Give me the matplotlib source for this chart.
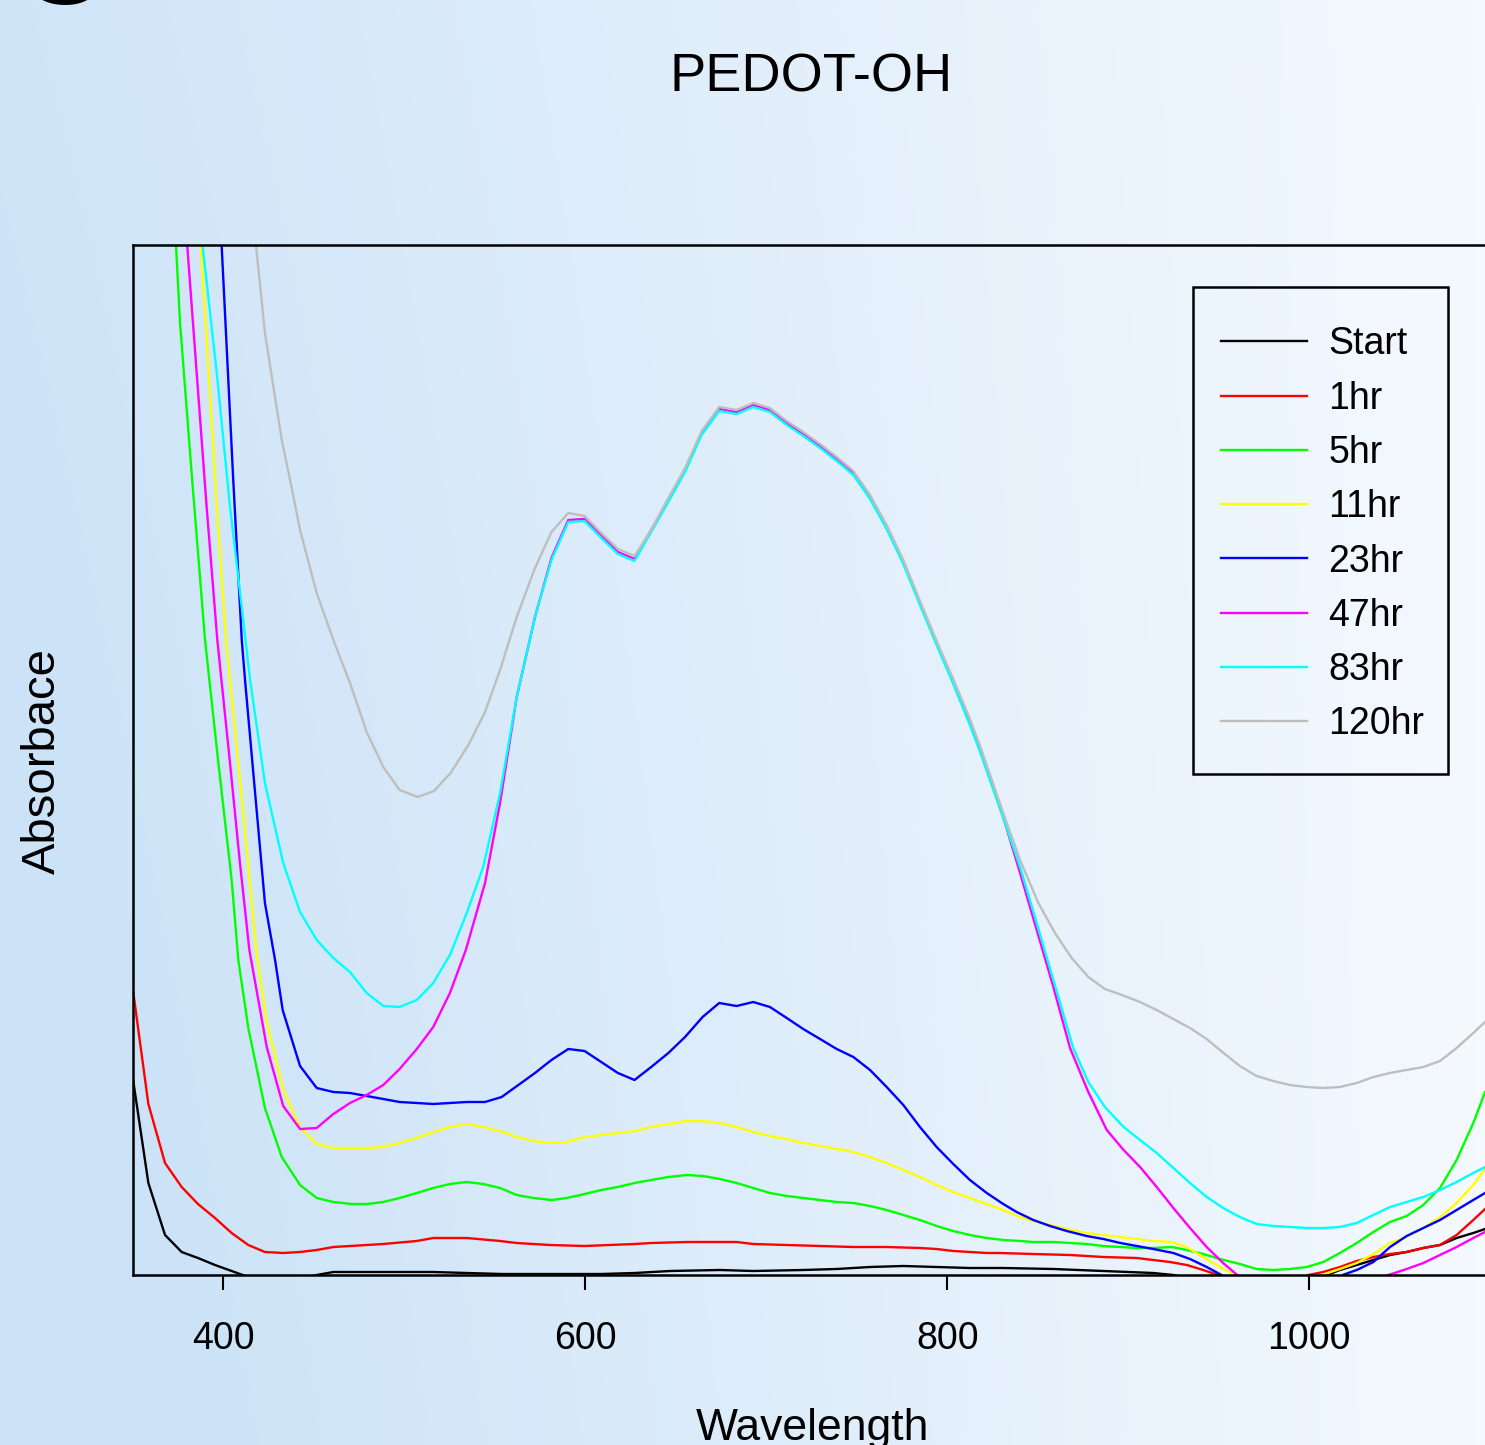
import numpy as np
import matplotlib
matplotlib.use("Agg")
import matplotlib.pyplot as plt
from matplotlib.patches import Rectangle

plt.rcParams['font.family'] = ['Liberation Sans', 'DejaVu Sans']

# ---------------- data (wavelength in nm, absorbance in arbitrary units) ----------------
labels = ["Start", "1hr", "5hr", "11hr", "23hr", "47hr", "83hr", "120hr"]
colors = ["#000000", "#ff0000", "#00ff00", "#ffff00", "#0000ff", "#ff00ff", "#00ffff", "#bebebe"]

black_wl = [350.0, 358.6, 367.8, 377.0, 386.0, 395.4, 404.6, 413.8, 423.0, 432.3, 442.4, 451.6, 460.8, 479.2,
            497.4, 516.0, 534.5, 553.8, 572.2, 590.6, 608.8, 627.2, 646.9, 674.4, 692.8, 720.4, 738.9, 757.3,
            775.7, 794.1, 812.5, 830.9, 858.6, 886.2, 913.8, 924.9, 943.3, 961.6, 980.1, 998.6, 1009.6, 1016.9,
            1026.2, 1035.4, 1044.6, 1053.8, 1063.0, 1072.2, 1081.4, 1090.6, 1097.1]
black_abs = [0.197, 0.092, 0.040, 0.023, 0.017, 0.010, 0.004, -0.002, -0.006, -0.006, -0.004, 0.000, 0.003, 0.003,
             0.003, 0.003, 0.002, 0.001, 0.001, 0.001, 0.001, 0.002, 0.004, 0.005, 0.004, 0.005, 0.006, 0.008,
             0.009, 0.008, 0.007, 0.007, 0.006, 0.004, 0.002, 0.000, -0.008, -0.015, -0.015, -0.008, 0.000, 0.005,
             0.010, 0.015, 0.020, 0.023, 0.027, 0.030, 0.037, 0.042, 0.046]

red_wl = [350.0, 358.6, 367.8, 377.0, 386.0, 395.4, 404.6, 413.8, 423.0, 433.1, 442.4, 451.6, 460.8, 470.0, 488.4,
          506.9, 516.0, 534.5, 552.9, 562.1, 580.4, 599.6, 627.2, 636.4, 656.0, 683.6, 692.8, 711.3, 729.7, 748.1,
          766.5, 784.9, 794.1, 803.3, 812.5, 821.8, 829.1, 847.5, 867.8, 886.2, 904.7, 923.0, 932.3, 941.4, 949.6,
          962.0, 978.0, 992.0, 999.4, 1007.7, 1016.9, 1026.2, 1035.4, 1044.6, 1053.8, 1063.0, 1072.2, 1081.4,
          1090.6, 1097.1]
red_abs = [0.286, 0.171, 0.112, 0.088, 0.071, 0.057, 0.042, 0.030, 0.023, 0.022, 0.023, 0.025, 0.028, 0.029, 0.031,
           0.034, 0.037, 0.037, 0.034, 0.032, 0.030, 0.029, 0.031, 0.032, 0.033, 0.033, 0.031, 0.030, 0.029, 0.028,
           0.028, 0.027, 0.026, 0.024, 0.023, 0.022, 0.022, 0.021, 0.020, 0.018, 0.017, 0.013, 0.010, 0.005, 0.000,
           -0.010, -0.015, -0.006, 0.000, 0.003, 0.008, 0.014, 0.018, 0.021, 0.023, 0.027, 0.030, 0.040,
           0.055, 0.066]

green_wl = [371.0, 373.9, 376.1, 382.5, 389.9, 397.1, 404.6, 408.3, 413.8, 423.0, 432.3, 442.4, 451.6, 460.8, 470.9,
            479.2, 488.4, 497.4, 506.9, 516.0, 525.2, 534.5, 543.6, 552.9, 562.1, 571.3, 581.3, 589.7, 599.6, 608.8,
            618.0, 627.2, 636.4, 645.9, 656.0, 665.1, 674.4, 683.6, 692.8, 702.0, 711.3, 720.4, 729.7, 738.9, 748.1,
            757.3, 766.5, 775.7, 784.9, 794.1, 803.3, 812.5, 821.8, 830.9, 840.2, 847.5, 858.6, 867.8, 877.0, 886.2,
            895.6, 904.7, 913.8, 924.0, 932.3, 941.4, 950.6, 961.6, 970.9, 980.1, 989.3, 998.6, 1007.7, 1016.9,
            1026.2, 1035.4, 1044.6, 1053.8, 1063.0, 1072.2, 1081.4, 1090.6, 1097.1]
green_abs = [1.100, 1.029, 0.952, 0.802, 0.635, 0.515, 0.395, 0.315, 0.247, 0.167, 0.118, 0.090, 0.077, 0.073, 0.071,
             0.071, 0.073, 0.077, 0.082, 0.087, 0.091, 0.093, 0.091, 0.087, 0.080, 0.077, 0.075, 0.077, 0.081, 0.085,
             0.088, 0.092, 0.095, 0.098, 0.100, 0.099, 0.096, 0.092, 0.087, 0.082, 0.079, 0.077, 0.075, 0.073, 0.072,
             0.069, 0.065, 0.060, 0.055, 0.049, 0.044, 0.040, 0.037, 0.035, 0.034, 0.033, 0.033, 0.032, 0.031, 0.029,
             0.028, 0.027, 0.027, 0.028, 0.025, 0.021, 0.016, 0.011, 0.006, 0.005, 0.006, 0.008, 0.013, 0.022,
             0.032, 0.043, 0.053, 0.059, 0.070, 0.087, 0.115, 0.152, 0.183]

yellow_wl = [385.0, 387.5, 390.8, 396.4, 401.5, 403.7, 411.0, 418.5, 424.0, 433.1, 442.4, 451.6, 460.8, 470.0, 479.2,
             488.4, 497.4, 506.9, 516.0, 525.2, 534.5, 543.6, 552.9, 562.1, 571.3, 581.3, 589.7, 599.6, 608.8, 618.0,
             627.2, 636.4, 645.9, 656.0, 665.1, 674.4, 683.6, 692.8, 702.0, 711.3, 720.4, 729.7, 738.9, 748.1, 757.3,
             766.5, 775.7, 784.9, 794.1, 803.3, 812.5, 821.8, 830.9, 838.3, 847.5, 856.8, 866.0, 877.0, 886.2, 895.6,
             904.7, 913.8, 924.0, 932.3, 941.4, 950.6, 958.9, 972.0, 986.0, 999.0, 1006.9, 1016.9, 1026.2, 1035.4,
             1044.6, 1053.8, 1063.0, 1072.2, 1081.4, 1090.6, 1097.1]
yellow_abs = [1.100, 1.029, 0.935, 0.768, 0.635, 0.595, 0.462, 0.320, 0.253, 0.185, 0.148, 0.131, 0.127, 0.127, 0.127,
              0.128, 0.132, 0.137, 0.143, 0.148, 0.151, 0.148, 0.144, 0.138, 0.134, 0.132, 0.133, 0.138, 0.140, 0.142,
              0.144, 0.148, 0.151, 0.154, 0.154, 0.152, 0.148, 0.143, 0.139, 0.136, 0.132, 0.129, 0.126, 0.123, 0.118,
              0.112, 0.105, 0.098, 0.090, 0.083, 0.077, 0.071, 0.065, 0.059, 0.054, 0.050, 0.046, 0.042, 0.040, 0.038,
              0.036, 0.034, 0.033, 0.028, 0.018, 0.008, 0.000, -0.012, -0.015, -0.006, 0.000, 0.006, 0.012, 0.021,
              0.032, 0.038, 0.047, 0.058, 0.072, 0.090, 0.106]

blue_wl = [397.2, 399.1, 405.5, 410.2, 412.0, 423.0, 428.6, 432.8, 442.4, 451.6, 460.8, 470.0, 479.2, 488.4, 497.4,
           506.9, 516.0, 525.2, 534.5, 544.6, 553.8, 563.0, 572.2, 581.3, 590.6, 599.6, 608.8, 618.0, 627.2, 636.4,
           645.9, 655.1, 664.8, 674.0, 683.6, 692.8, 702.0, 711.3, 720.4, 729.7, 738.9, 748.1, 757.3, 766.5, 775.7,
           784.9, 794.1, 803.3, 812.5, 821.8, 830.9, 838.3, 847.5, 856.8, 866.0, 877.0, 886.2, 895.6, 904.7, 913.8,
           924.9, 934.1, 943.3, 951.5, 968.0, 990.0, 1010.0, 1018.4, 1026.2, 1035.4, 1044.6, 1053.8, 1063.0, 1072.2,
           1081.4, 1090.6, 1097.1]
blue_abs = [1.100, 1.029, 0.795, 0.635, 0.595, 0.372, 0.315, 0.265, 0.209, 0.187, 0.183, 0.182, 0.179, 0.176, 0.173,
            0.172, 0.171, 0.172, 0.173, 0.173, 0.178, 0.190, 0.202, 0.215, 0.226, 0.224, 0.213, 0.202, 0.195, 0.208,
            0.222, 0.238, 0.258, 0.272, 0.269, 0.273, 0.268, 0.257, 0.246, 0.236, 0.226, 0.218, 0.205, 0.188, 0.170,
            0.148, 0.128, 0.111, 0.095, 0.082, 0.071, 0.063, 0.055, 0.049, 0.044, 0.039, 0.036, 0.032, 0.029, 0.026,
            0.022, 0.016, 0.008, 0.000, -0.020, -0.030, -0.012, 0.000, 0.005, 0.013, 0.028, 0.039, 0.047, 0.055,
            0.065, 0.075, 0.082]

magenta_wl = [378.0, 380.1, 385.3, 390.8, 396.7, 403.7, 409.2, 414.4, 424.0, 433.1, 442.4, 451.6, 460.8, 470.0, 479.2,
              488.4, 497.4, 506.9, 516.0, 525.2, 534.0, 544.6, 552.9, 562.1, 572.2, 581.3, 590.6, 599.6, 608.8, 618.0,
              627.2, 636.4, 645.9, 655.1, 664.3, 674.0, 683.6, 692.8, 702.0, 711.3, 720.4, 729.7, 738.9, 748.1, 757.3,
              766.5, 775.7, 784.9, 794.1, 803.3, 812.5, 818.1, 830.9, 840.2, 849.4, 858.6, 867.8, 877.9, 888.1, 897.4,
              906.5, 915.7, 924.9, 934.1, 943.3, 952.4, 960.2, 980.0, 1005.0, 1030.0, 1043.7, 1053.8, 1063.0, 1072.2,
              1081.4, 1090.6, 1097.1]
magenta_abs = [1.100, 1.029, 0.902, 0.768, 0.635, 0.512, 0.412, 0.325, 0.228, 0.169, 0.146, 0.147, 0.161, 0.172, 0.180,
               0.190, 0.206, 0.226, 0.248, 0.282, 0.325, 0.392, 0.472, 0.578, 0.658, 0.717, 0.755, 0.756, 0.740, 0.723,
               0.716, 0.745, 0.775, 0.805, 0.842, 0.866, 0.863, 0.870, 0.865, 0.852, 0.841, 0.829, 0.816, 0.802, 0.778,
               0.748, 0.713, 0.672, 0.632, 0.593, 0.552, 0.525, 0.458, 0.402, 0.345, 0.288, 0.227, 0.183, 0.145, 0.125,
               0.108, 0.088, 0.067, 0.047, 0.028, 0.012, 0.000, -0.030, -0.045, -0.020, 0.000, 0.006, 0.012, 0.020,
               0.028, 0.037, 0.043]

cyan_wl = [386.0, 388.6, 396.4, 403.7, 410.2, 414.8, 423.0, 433.1, 442.4, 451.6, 460.8, 470.0, 479.2, 488.4, 497.4,
           506.9, 516.0, 525.2, 534.5, 543.6, 552.9, 562.1, 572.2, 581.3, 590.6, 599.6, 608.8, 618.0, 627.2, 636.4,
           645.9, 655.1, 664.3, 674.0, 683.6, 692.8, 702.0, 711.3, 720.4, 729.7, 738.9, 748.1, 757.3, 766.5, 775.7,
           784.9, 794.1, 803.3, 812.5, 818.1, 830.9, 840.2, 849.4, 858.6, 869.6, 877.9, 887.1, 897.4, 906.5, 915.7,
           924.9, 934.1, 943.3, 952.4, 961.6, 970.9, 980.1, 989.3, 998.6, 1007.7, 1016.9, 1026.2, 1035.4, 1044.6,
           1053.8, 1063.0, 1072.2, 1081.4, 1090.6, 1097.1]
cyan_abs = [1.100, 1.029, 0.902, 0.768, 0.668, 0.595, 0.492, 0.412, 0.363, 0.335, 0.317, 0.303, 0.282, 0.269, 0.268,
            0.275, 0.292, 0.320, 0.362, 0.408, 0.482, 0.578, 0.658, 0.715, 0.753, 0.754, 0.737, 0.721, 0.714, 0.743,
            0.773, 0.803, 0.840, 0.864, 0.861, 0.868, 0.863, 0.850, 0.839, 0.827, 0.814, 0.800, 0.776, 0.746, 0.711,
            0.670, 0.630, 0.591, 0.550, 0.523, 0.457, 0.408, 0.352, 0.295, 0.227, 0.193, 0.168, 0.148, 0.135, 0.122,
            0.107, 0.092, 0.078, 0.067, 0.058, 0.051, 0.049, 0.048, 0.047, 0.047, 0.048, 0.052, 0.060, 0.068,
            0.073, 0.078, 0.085, 0.093, 0.102, 0.108]

gray_wl = [414.0, 418.1, 423.0, 432.3, 436.9, 442.4, 451.6, 460.8, 470.0, 479.2, 488.4, 497.4, 507.4, 516.4, 525.6,
           535.4, 544.6, 552.9, 562.1, 572.2, 581.3, 590.6, 599.6, 608.8, 618.0, 627.2, 636.4, 645.9, 655.1, 664.3,
           674.0, 683.6, 692.8, 702.0, 711.3, 720.4, 729.7, 738.9, 748.1, 757.3, 766.5, 775.7, 784.9, 794.1, 803.3,
           812.5, 818.1, 830.9, 840.2, 850.3, 859.5, 868.7, 877.9, 887.1, 896.5, 906.5, 915.7, 924.9, 934.1, 943.3,
           950.6, 961.6, 970.9, 980.1, 989.3, 998.6, 1007.7, 1016.9, 1026.2, 1035.4, 1044.6, 1053.8, 1063.0, 1072.2,
           1081.4, 1090.6, 1097.1]
gray_abs = [1.100, 1.029, 0.942, 0.835, 0.795, 0.745, 0.682, 0.635, 0.592, 0.543, 0.508, 0.485, 0.478, 0.484, 0.502,
            0.530, 0.563, 0.605, 0.658, 0.707, 0.743, 0.762, 0.759, 0.742, 0.726, 0.719, 0.745, 0.777, 0.807, 0.844,
            0.868, 0.865, 0.872, 0.867, 0.854, 0.843, 0.831, 0.818, 0.804, 0.780, 0.750, 0.715, 0.674, 0.634, 0.596,
            0.556, 0.529, 0.462, 0.415, 0.372, 0.342, 0.317, 0.298, 0.286, 0.280, 0.273, 0.265, 0.256, 0.247, 0.236,
            0.225, 0.209, 0.199, 0.194, 0.190, 0.188, 0.187, 0.188, 0.192, 0.198, 0.202, 0.205, 0.208, 0.214,
            0.227, 0.242, 0.253]

x_ticks = [400, 600, 800, 1000]

series = [(black_wl, black_abs), (red_wl, red_abs), (green_wl, green_abs), (yellow_wl, yellow_abs),
          (blue_wl, blue_abs), (magenta_wl, magenta_abs), (cyan_wl, cyan_abs), (gray_wl, gray_abs)]

# ---------------- figure ----------------
W, H, DPI = 1485, 1445, 100
fig = plt.figure(figsize=(W / DPI, H / DPI), dpi=DPI)

# light-blue gradient background
bg = fig.add_axes([0, 0, 1, 1], zorder=-10)
gx, gy = np.meshgrid(np.linspace(0, 1, 400), np.linspace(0, 1, 400))
t = np.clip(gx - 0.15 * (1 - gy) * (1 - gx) + 0.08 * gy * (1 - gx), 0, 1)
c0 = np.array([0.80, 0.89, 0.97])
c1 = np.array([0.957, 0.977, 0.996])
img = c0[None, None, :] + (c1 - c0)[None, None, :] * t[..., None]
bg.imshow(img, extent=[0, 1, 0, 1], origin='lower', aspect='auto', interpolation='bilinear')
bg.set_axis_off()

ax = fig.add_axes([132.8 / W, 170 / H, 1357.5 / W, 1030 / H])
ax.set_facecolor('none')
for (wl, ab), col, lab in zip(series, colors, labels):
    ax.plot(wl, ab, color=col, lw=1.7, label=lab, solid_joinstyle='round')

ax.set_xlim(350, 1100)
ax.set_ylim(0, 1.03)
ax.set_xticks(x_ticks)
ax.set_xticklabels([str(v) for v in x_ticks])
ax.set_yticks([])
ax.tick_params(axis='x', length=10.8, width=1.5, pad=22, labelsize=27, direction='out', color='black')
for s in ax.spines.values():
    s.set_linewidth(1.8)
    s.set_color('black')

# legend entries (no frame) + separate black box around them
leg = ax.legend(loc='upper left', bbox_to_anchor=(1220.7 / W, 1 - 326.5 / H), bbox_transform=fig.transFigure,
                borderaxespad=0, borderpad=0, fontsize=27, handlelength=2.29, handletextpad=0.58,
                labelspacing=0.487, frameon=False)
fig.patches.append(Rectangle((1192.7 / W, 1 - 774 / H), (1448.3 - 1192.7) / W, (774 - 286.7) / H,
                             transform=fig.transFigure, fill=False, lw=1.8, ec='black', zorder=5))

fig.text(811.5 / W, 1 - 92 / H, 'PEDOT-OH', ha='center', va='baseline', fontsize=39)
fig.text(812 / W, 1 - 1440 / H, 'Wavelength', ha='center', va='baseline', fontsize=32)
fig.text(43 / W, 1 - 761 / H, 'Absorbace', rotation=90, ha='center', va='center', fontsize=34)
fig.text(62 / W, 1 - 4 / H, 'C', ha='center', va='baseline', fontsize=90, fontweight='bold')

fig.savefig('out.png', dpi=DPI)
